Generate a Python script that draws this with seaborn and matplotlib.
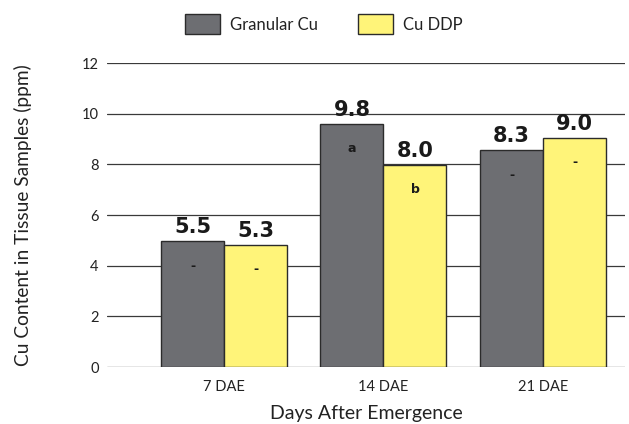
import pandas as pd
import matplotlib
matplotlib.use('Agg')
import matplotlib.pyplot as plt
import seaborn as sns

# datos
days = ['7 DAE', '14 DAE', '21 DAE']
granular_cu = [4.97, 9.6, 8.56]
cu_ddp = [4.82, 7.98, 9.04]
granular_labels = ['5.5', '9.8', '8.3']
ddp_labels = ['5.3', '8.0', '9.0']
granular_letters = ['-', 'a', '-']
ddp_letters = ['-', 'b', '-']
series = ['Granular Cu', 'Cu DDP']
yticks = [0, 2, 4, 6, 8, 10, 12]

COLORS = ['#6d6e72', '#fff479']
FONT = 'Lato'

df = pd.DataFrame({
    'day': days * 2,
    'value': granular_cu + cu_ddp,
    'serie': [series[0]] * 3 + [series[1]] * 3,
})

sns.set_style('white')
plt.rcParams['font.family'] = [FONT, 'DejaVu Sans']

fig = plt.figure(figsize=(6.29, 4.24), dpi=100)
ax = fig.add_axes([0.170, 0.1344, 0.8236, 0.7170])

sns.barplot(data=df, x='day', y='value', hue='serie', palette=COLORS,
            width=0.79, edgecolor='#2b2b2b', linewidth=1.0, saturation=1,
            ax=ax, legend=False, zorder=3)

ax.set_xlim(-0.734, 2.514)
ax.set_ylim(0, 12)
ax.set_yticks(yticks)
ax.yaxis.grid(True, color='#3a3a3a', linewidth=0.9, zorder=0)
ax.set_axisbelow(True)
for s in ax.spines.values():
    s.set_visible(False)
ax.tick_params(axis='y', length=0, labelsize=10.5, colors='#222222', pad=6)
ax.tick_params(axis='x', length=0, labelsize=10.5, colors='#222222', pad=9)

ax.set_xlabel('Days After Emergence', fontsize=14, color='#222222', labelpad=8)
ax.set_ylabel('Cu Content in Tissue Samples (ppm)', fontsize=13.8, color='#222222', labelpad=36)

# etiquetas de valor y letras
all_labels = [granular_labels, ddp_labels]
all_letters = [granular_letters, ddp_letters]
for k, cont in enumerate(ax.containers):
    for bar, lab, let in zip(cont, all_labels[k], all_letters[k]):
        xc = bar.get_x() + bar.get_width() / 2
        top = bar.get_height()
        ax.annotate(lab, (xc, top), xytext=(0, 3), textcoords='offset points',
                    ha='center', va='bottom', fontsize=15, fontweight='bold',
                    family='DejaVu Sans', color='#1a1a1a', zorder=5)
        ax.annotate(let, (xc, top), xytext=(0, -18), textcoords='offset points',
                    ha='center', va='center', fontsize=9, fontweight='bold',
                    family='DejaVu Sans', color='#1a1a1a', zorder=5)

# leyenda arriba
handles = [plt.Rectangle((0, 0), 1, 1, facecolor=c, edgecolor='#2b2b2b', linewidth=1.0)
           for c in COLORS]
fig.legend(handles, series, loc='center', bbox_to_anchor=(0.515, 0.943), ncol=2,
           frameon=False, fontsize=12, handlelength=2.1, handleheight=1.45,
           handletextpad=0.6, columnspacing=2.4, labelcolor='#222222')

fig.savefig('out.png', dpi=100)
